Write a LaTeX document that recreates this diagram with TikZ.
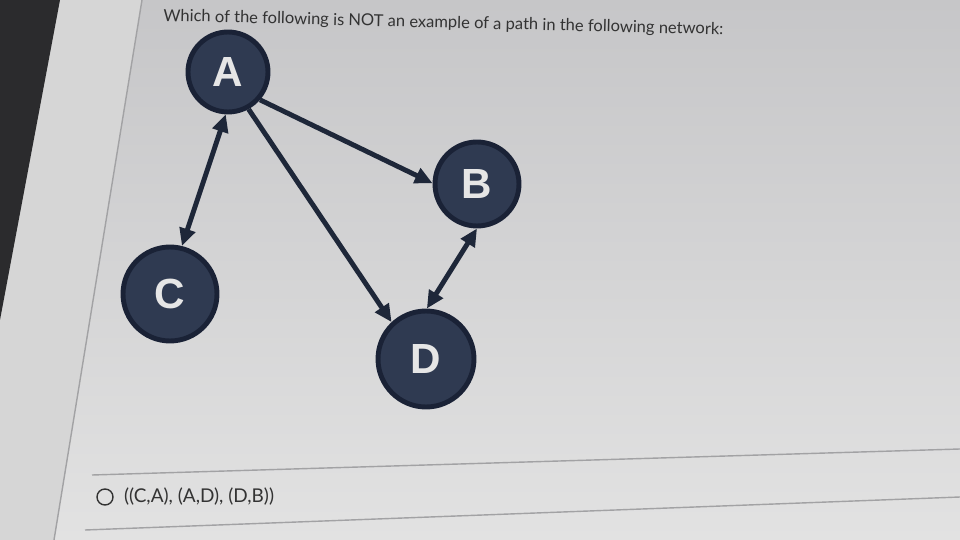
\documentclass[tikz,border=0pt]{standalone}
\usepackage{fontspec}
\setmainfont{Lato}
\newfontfamily\letterfont{Liberation Sans}
\usetikzlibrary{arrows.meta,positioning}

\definecolor{bgtop}{HTML}{C6C6C8}
\definecolor{bgbot}{HTML}{E2E2E2}
\definecolor{bezel}{HTML}{2B2B2D}
\definecolor{strip}{HTML}{D6D6D6}
\definecolor{rule}{HTML}{A2A2A4}
\definecolor{nodefill}{HTML}{2F3A51}
\definecolor{nodeedge}{HTML}{1A2236}
\definecolor{nodetext}{HTML}{E6E6E6}
\definecolor{edgecol}{HTML}{1E2739}
\definecolor{txt}{HTML}{333333}

\begin{document}
\begin{tikzpicture}[x=0.02cm,y=-0.02cm,
    vertex/.style={circle,fill=nodefill,draw=nodeedge,line width=2.8pt,
        text=nodetext,inner sep=0pt,
        font=\letterfont\fontsize{24}{24}\selectfont\bfseries},
    oneway/.style={draw=edgecol,line width=2.8pt,
        -{Triangle[length=10pt,width=9pt]}},
    twoway/.style={draw=edgecol,line width=2.8pt,
        {Triangle[length=10pt,width=9pt]}-{Triangle[length=10pt,width=9pt]}}]
    \useasboundingbox (0,0) rectangle (960,540);
    % screen and bezel
    \shade[top color=bgtop,bottom color=bgbot] (0,0) rectangle (960,540);
    \fill[strip] (0,0)--(142,0)--(54,540)--(0,540)--cycle;
    \fill[bezel] (0,0)--(60,0)--(0,320)--cycle;
    \draw[rule,line width=0.8pt] (142,0)--(54,540);
    \draw[rule,line width=0.8pt] (92,475)--(960,449);
    \draw[rule,line width=0.8pt] (85,530)--(960,497);

    % question
    \node[anchor=base west,rotate=-1.4,inner sep=0pt,text=txt,
        font=\fontsize{9.4}{11}\selectfont] (question) at (163,21)
        {Which of the following is NOT an example of a path in the following network:};

    % network
    \node[vertex,minimum size=1.6cm] (A) at (228,72) {A};
    \node[vertex,minimum size=1.68cm] (B) at (477,184) {B};
    \node[vertex,minimum size=1.88cm] (C) at (170,294) {C};
    \node[vertex,minimum size=1.92cm] (D) at (426,359) {D};
    \draw[oneway] (A.-41) -- (B.179);
    \draw[oneway] (A.-61) -- (D.133);
    \draw[twoway] (A.267) -- (C.76);
    \draw[twoway] (B.270) -- (D.89);

    % answer option
    \node[circle,draw=txt,line width=0.8pt,minimum size=0.32cm,inner sep=0pt]
        (radio) at (105,497) {};
    \node[right=0.2cm of radio,inner sep=0pt,text=txt,
        font=\fontsize{10.8}{13}\selectfont] (answer)
        {((C,A), (A,D), (D,B))};
\end{tikzpicture}
\end{document}
